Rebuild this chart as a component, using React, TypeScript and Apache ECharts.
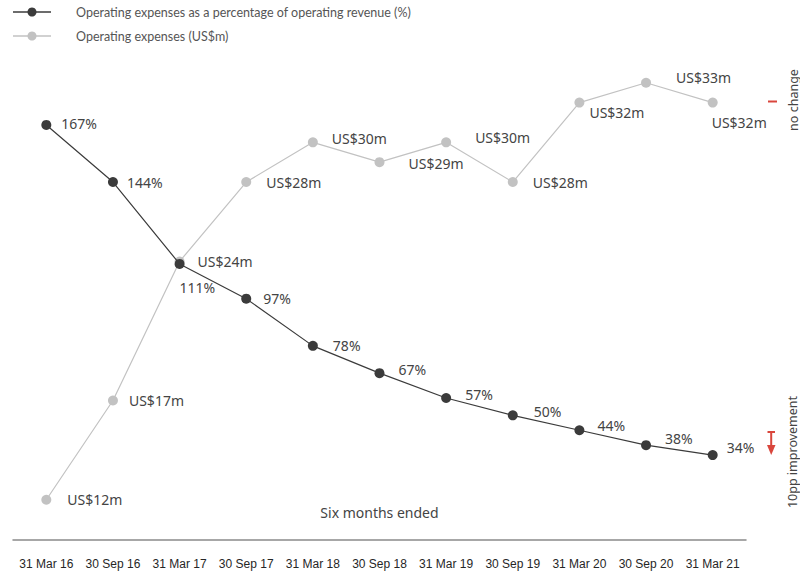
import React, { useEffect, useRef } from "react";
import * as echarts from "echarts";

// Six-month periods
const periods = [
  "31 Mar 16", "30 Sep 16", "31 Mar 17", "30 Sep 17", "31 Mar 18", "30 Sep 18",
  "31 Mar 19", "30 Sep 19", "31 Mar 20", "30 Sep 20", "31 Mar 21",
];

// Operating expenses as a percentage of operating revenue (%)
const opexRatio = [167, 144, 111, 97, 78, 67, 57, 50, 44, 38, 34];

// Operating expenses (US$m)
const opexUsd = [12, 17, 24, 28, 30, 29, 30, 28, 32, 33, 32];

const ratioLabel = "Operating expenses as a percentage of operating revenue (%)";
const usdLabel = "Operating expenses (US$m)";

// Per-point label nudges (px) so labels clear the lines
const ratioLabelOffsets: [number, number][] = [
  [5, -1], [4, 0], [-10, 24], [7, 0], [10, 0], [9, -4], [9, -3], [11, -4], [8, -5], [9, -7], [4, -8],
];
const usdLabelOffsets: [number, number][] = [
  [11, 0], [6, 0], [8, 0], [10, 0], [9, -4], [19, 1], [19, -5], [10, 0], [0, 10], [20, -5], [-11, 20],
];

const DARK = "#3b3b3b";
const LIGHT = "#c2c2c2";
const RED = "#d9463c";
const TEXT = "#444444";
const LABEL_FONT = "'Noto Sans', sans-serif";

export default function App() {
  const ref = useRef<HTMLDivElement>(null);

  useEffect(() => {
    if (!ref.current) return;
    const chart = echarts.init(ref.current, undefined, { renderer: "svg" });

    const labelStyle = {
      show: true,
      position: "right" as const,
      distance: 5,
      color: TEXT,
      fontSize: 14,
      fontFamily: LABEL_FONT,
    };

    chart.setOption({
      animation: false,
      grid: { left: 13, right: 54, top: 43, bottom: 32.5 },
      xAxis: {
        type: "category",
        data: periods,
        boundaryGap: true,
        axisLine: { show: true, lineStyle: { color: "#8a8a8a", width: 1.5 } },
        axisTick: { show: false },
        axisLabel: {
          color: "#262626",
          fontSize: 12,
          fontFamily: "'Liberation Sans', Arial, sans-serif",
          margin: 18,
          interval: 0,
        },
        splitLine: { show: false },
      },
      yAxis: [
        { type: "value", min: 0, max: 200, show: false, splitLine: { show: false } },
        { type: "value", min: 10, max: 35, show: false, splitLine: { show: false } },
      ],
      series: [
        {
          name: usdLabel,
          type: "line",
          yAxisIndex: 1,
          symbol: "circle",
          symbolSize: 10,
          itemStyle: { color: LIGHT },
          lineStyle: { color: LIGHT, width: 1.2 },
          data: opexUsd.map((v, i) => ({
            value: v,
            label: { ...labelStyle, offset: usdLabelOffsets[i], formatter: `US$${v}m` },
          })),
          z: 2,
        },
        {
          name: ratioLabel,
          type: "line",
          yAxisIndex: 0,
          symbol: "circle",
          symbolSize: 10,
          itemStyle: { color: DARK },
          lineStyle: { color: DARK, width: 1.2 },
          data: opexRatio.map((v, i) => ({
            value: v,
            label: { ...labelStyle, offset: ratioLabelOffsets[i], formatter: `${v}%` },
          })),
          z: 3,
        },
      ],
      graphic: [
        // legend
        { type: "line", shape: { x1: 13, y1: 12, x2: 51, y2: 12 }, style: { stroke: DARK, lineWidth: 1.5 } },
        { type: "circle", shape: { cx: 32, cy: 12, r: 4.5 }, style: { fill: DARK } },
        {
          type: "text", x: 76, y: 12,
          style: { text: ratioLabel, fill: "#555555", fontSize: 12.5, fontFamily: "Lato, sans-serif", verticalAlign: "middle" },
        },
        { type: "line", shape: { x1: 13, y1: 36, x2: 51, y2: 36 }, style: { stroke: LIGHT, lineWidth: 1.5 } },
        { type: "circle", shape: { cx: 32, cy: 36, r: 4.5 }, style: { fill: LIGHT } },
        {
          type: "text", x: 76, y: 36,
          style: { text: usdLabel, fill: "#555555", fontSize: 12.5, fontFamily: "Lato, sans-serif", verticalAlign: "middle" },
        },
        // axis caption
        {
          type: "text", x: 379.5, y: 512,
          style: { text: "Six months ended", fill: TEXT, fontSize: 14, fontFamily: LABEL_FONT, align: "center", verticalAlign: "middle" },
        },
        // right-hand change notes
        { type: "line", shape: { x1: 768, y1: 101.5, x2: 777, y2: 101.5 }, style: { stroke: RED, lineWidth: 2 } },
        {
          type: "text", x: 793, y: 100, rotation: Math.PI / 2,
          style: { text: "no change", fill: TEXT, fontSize: 12.5, fontFamily: LABEL_FONT, align: "center", verticalAlign: "middle" },
        },
        { type: "line", shape: { x1: 767.5, y1: 432, x2: 775, y2: 432 }, style: { stroke: RED, lineWidth: 2 } },
        { type: "line", shape: { x1: 771.2, y1: 432, x2: 771.2, y2: 447 }, style: { stroke: RED, lineWidth: 2 } },
        { type: "polygon", shape: { points: [[767, 445], [775.5, 445], [771.2, 455]] }, style: { fill: RED } },
        {
          type: "text", x: 792, y: 452, rotation: Math.PI / 2,
          style: { text: "10pp improvement", fill: TEXT, fontSize: 12.5, fontFamily: LABEL_FONT, align: "center", verticalAlign: "middle" },
        },
      ],
    });

    return () => chart.dispose();
  }, []);

  return (
    <div
      ref={ref}
      style={{ position: "fixed", left: 0, top: 0, width: 800, height: 572, background: "#ffffff" }}
    />
  );
}
